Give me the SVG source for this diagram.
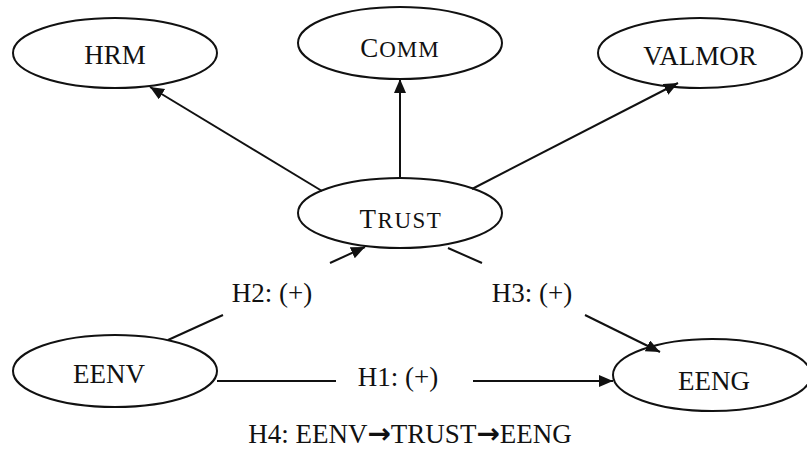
<svg xmlns="http://www.w3.org/2000/svg" width="807" height="449" viewBox="0 0 807 449">
  <style>
    text { font-family: 'Liberation Serif', 'DejaVu Serif', serif; font-size: 27px; fill: #111111; text-anchor: middle; }
    .node ellipse { fill: #ffffff; stroke: #111111; stroke-width: 2; }
    .sc { font-size: 23px; }
    .arr { font-family: 'DejaVu Sans', sans-serif; font-weight: bold; font-size: 28px; }
    .edge { stroke: #111111; stroke-width: 2; fill: none; }
  </style>
  <defs>
    <marker id="arrow" markerUnits="userSpaceOnUse" markerWidth="16" markerHeight="14" refX="14" refY="6" orient="auto">
      <path d="M0,0 L14,6 L0,12 z" fill="#111111"/>
    </marker>
  </defs>
  <rect width="807" height="449" fill="#ffffff"/>

  <g id="HRM" class="node">
    <ellipse cx="115" cy="53" rx="102" ry="35"/>
    <text x="115" y="64">HRM</text>
  </g>
  <g id="COMM" class="node">
    <ellipse cx="400" cy="43" rx="102" ry="36"/>
    <text x="400" y="57" letter-spacing="1">C<tspan class="sc">OMM</tspan></text>
  </g>
  <g id="VALMOR" class="node">
    <ellipse cx="700" cy="53" rx="102" ry="35"/>
    <text x="700" y="65">VALMOR</text>
  </g>
  <g id="TRUST" class="node">
    <ellipse cx="400" cy="213" rx="102" ry="35"/>
    <text x="401" y="228" letter-spacing="1.5">T<tspan class="sc">RUST</tspan></text>
  </g>
  <g id="EENV" class="node">
    <ellipse cx="115" cy="371" rx="102" ry="36"/>
    <text x="109" y="383">EENV</text>
  </g>
  <g id="EENG" class="node">
    <ellipse cx="712" cy="375" rx="99" ry="36"/>
    <text x="714" y="390">EENG</text>
  </g>

  <!-- paths drawn over the nodes so arrowheads stay visible at the ellipse rims -->
  <g id="connectors">
    <line class="edge" x1="322" y1="191" x2="150" y2="87" marker-end="url(#arrow)"/>
    <line class="edge" x1="400" y1="178" x2="400" y2="79" marker-end="url(#arrow)"/>
    <line class="edge" x1="472" y1="189" x2="678" y2="83" marker-end="url(#arrow)"/>
    <line class="edge" x1="168" y1="340" x2="223" y2="315"/>
    <line class="edge" x1="330" y1="263" x2="365" y2="247" marker-end="url(#arrow)"/>
    <line class="edge" x1="448" y1="248" x2="482" y2="263"/>
    <line class="edge" x1="585" y1="315" x2="660" y2="352" marker-end="url(#arrow)"/>
    <line class="edge" x1="217" y1="381" x2="613" y2="381" marker-end="url(#arrow)" stroke-dasharray="119 137 140"/>
    <text x="272" y="302">H2: (+)</text>
    <text x="532" y="302">H3: (+)</text>
    <text x="398" y="386">H1: (+)</text>
  </g>

  <text x="410" y="443">H4: EENV<tspan class="arr">→</tspan>TRUST<tspan class="arr">→</tspan>EENG</text>
</svg>
